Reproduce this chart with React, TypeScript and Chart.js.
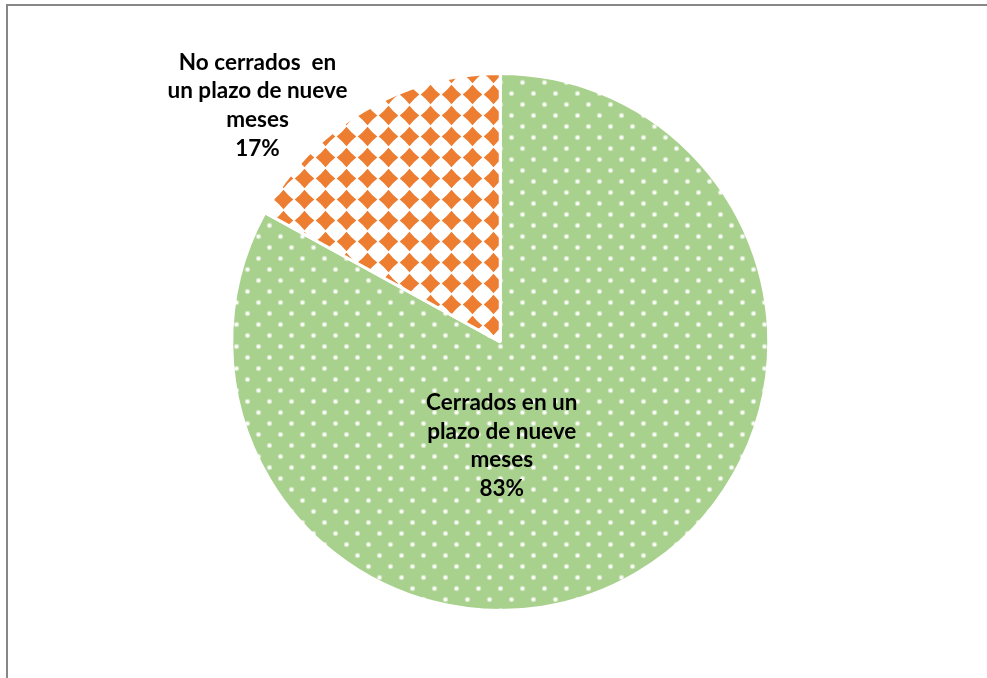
import React, { useEffect, useRef } from "react";
import { Chart, registerables } from "chart.js";

Chart.register(...registerables);

const categories: string[][] = [
  ["Cerrados en un", "plazo de nueve", "meses"],
  ["No cerrados  en", "un plazo de nueve", "meses"],
];
const values: number[] = [83, 17];

function makeDotPattern(): CanvasPattern | string {
  const s = 22;
  const c = document.createElement("canvas");
  c.width = s;
  c.height = s;
  const g = c.getContext("2d");
  if (!g) return "#A9D18E";
  g.fillStyle = "#A9D18E";
  g.fillRect(0, 0, s, s);
  const dot = (x: number, y: number) => {
    g.fillStyle = "rgba(255,255,255,0.45)";
    g.beginPath();
    g.arc(x, y, 2.7, 0, Math.PI * 2);
    g.fill();
    g.fillStyle = "rgba(255,255,255,1)";
    g.beginPath();
    g.arc(x, y, 1.6, 0, Math.PI * 2);
    g.fill();
  };
  dot(5.5, 5.5);
  dot(16.5, 16.5);
  const ctx = document.createElement("canvas").getContext("2d");
  return ctx ? (ctx.createPattern(c, "repeat") as CanvasPattern) : "#A9D18E";
}

function makeDiamondPattern(): CanvasPattern | string {
  const s = 21;
  const c = document.createElement("canvas");
  c.width = s;
  c.height = s;
  const g = c.getContext("2d");
  if (!g) return "#ED7D31";
  g.fillStyle = "#FFFFFF";
  g.fillRect(0, 0, s, s);
  g.fillStyle = "#ED7D31";
  const cx = s / 2;
  const cy = s / 2;
  const h = 9.8;
  const m = 4.3;
  g.beginPath();
  g.moveTo(cx, cy - h);
  g.quadraticCurveTo(cx + m, cy - m, cx + h, cy);
  g.quadraticCurveTo(cx + m, cy + m, cx, cy + h);
  g.quadraticCurveTo(cx - m, cy + m, cx - h, cy);
  g.quadraticCurveTo(cx - m, cy - m, cx, cy - h);
  g.closePath();
  g.fill();
  const ctx = document.createElement("canvas").getContext("2d");
  return ctx ? (ctx.createPattern(c, "repeat") as CanvasPattern) : "#ED7D31";
}

const labelPlugin = {
  id: "sliceLabels",
  afterDatasetsDraw(chart: any, _args: any, opts: any) {
    const { ctx } = chart;
    const meta = chart.getDatasetMeta(0);
    const data: number[] = chart.data.datasets[0].data;
    const total = data.reduce((a, b) => a + b, 0);
    const anchors = opts.anchors || [];
    ctx.save();
    ctx.font = opts.font;
    ctx.fillStyle = opts.color;
    ctx.textAlign = "center";
    ctx.textBaseline = "alphabetic";
    meta.data.forEach((arc: any, i: number) => {
      const p = arc.getProps(["x", "y", "outerRadius"], true);
      const a = anchors[i] || { dx: 0, dy: 0 };
      const lines = [...(chart.data.labels[i] as string[]), Math.round((data[i] / total) * 100) + "%"];
      const x = p.x + a.dx * p.outerRadius;
      let y = p.y + a.dy * p.outerRadius;
      lines.forEach((ln: string) => {
        ctx.fillText(ln, x, y);
        y += opts.lineHeight;
      });
    });
    ctx.restore();
  },
};

export default function App() {
  const ref = useRef<HTMLCanvasElement>(null);
  useEffect(() => {
    if (!ref.current) return;
    const chart = new Chart(ref.current, {
      type: "pie",
      data: {
        labels: categories,
        datasets: [
          {
            data: values,
            backgroundColor: [makeDotPattern(), makeDiamondPattern()],
            borderColor: "#FFFFFF",
            borderWidth: 3,
          },
        ],
      },
      options: {
        responsive: false,
        animation: false,
        devicePixelRatio: 1,
        layout: { padding: { top: 72, bottom: 66, left: 230, right: 216.5 } },
        plugins: {
          legend: { display: false },
          tooltip: { enabled: false },
          sliceLabels: {
            font: "bold 22.5px Lato",
            color: "#000000",
            lineHeight: 28.7,
            anchors: [
              { dx: 0.0056, dy: 0.253 },
              { dx: -0.904, dy: -1.014 },
            ],
          },
        } as any,
      },
      plugins: [labelPlugin],
    });
    return () => chart.destroy();
  }, []);
  return (
    <div style={{ position: "fixed", left: 0, top: 0, width: 987, height: 678, background: "#fff", overflow: "hidden" }}>
      <div
        style={{
          position: "absolute",
          left: 6,
          top: 4,
          width: 990,
          height: 700,
          borderTop: "2px solid #878787",
          borderLeft: "2px solid #878787",
        }}
      />
      <canvas ref={ref} width={987} height={678} style={{ position: "absolute", left: 0, top: 0, width: 987, height: 678 }} />
    </div>
  );
}
